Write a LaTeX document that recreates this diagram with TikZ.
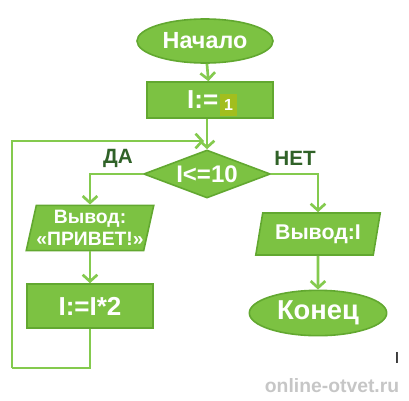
\documentclass[tikz,border=0pt]{standalone}
\usepackage{fontspec}
\setmainfont{Liberation Sans}
\definecolor{BlockColor}{RGB}{124,194,66}
\definecolor{BorderColor}{RGB}{98,168,48}
\definecolor{LineColor}{RGB}{132,202,78}
\definecolor{LabelColor}{RGB}{48,98,40}
\definecolor{ValueColor}{RGB}{162,190,30}
\usetikzlibrary{positioning, arrows.meta, shapes.geometric}
\tikzstyle{flow} = [line width=2pt, LineColor, -{Straight Barb[length=5pt,width=11pt,line width=2pt]}]
\tikzstyle{link} = [line width=2pt, LineColor]
\tikzset{
  terminal/.style={ellipse, fill=BlockColor, draw=BorderColor, line width=1.2pt, text=white, font=\bfseries\fontsize{17.5}{19}\selectfont, inner sep=0pt},
  process/.style={rectangle, fill=BlockColor, draw=BorderColor, line width=1.2pt, text=white, font=\bfseries\fontsize{19.5}{21}\selectfont, inner sep=0pt},
  decision/.style={diamond, fill=BlockColor, draw=BorderColor, line width=1.2pt, text=white, font=\bfseries\fontsize{18}{20}\selectfont, inner sep=0pt, shape aspect=2.6},
  io/.style={trapezium, trapezium left angle=74, trapezium right angle=106, trapezium stretches=true, fill=BlockColor, draw=BorderColor, line width=1.2pt, text=white, font=\bfseries\fontsize{16}{16.5}\selectfont, inner sep=0pt, align=center},
  value/.style={rectangle, fill=ValueColor, text=white, font=\bfseries\fontsize{12}{13}\selectfont, minimum width=12.75pt, minimum height=16.5pt, inner sep=0pt},
  answer/.style={text=LabelColor, font=\bfseries\fontsize{15.5}{17}\selectfont}
}

\begin{document}
\begin{tikzpicture}[x=0.75pt, y=-0.75pt]
            \useasboundingbox (0,0) rectangle (409,400);

            % Blocks of the algorithm
            \node[terminal, minimum width=102pt, minimum height=33pt] (start) at (205,41) {Начало};
            \node[process, minimum width=94.5pt, minimum height=27pt] (init) at (210,100) {\kern6pt I:=\kern17pt};
            \node[value] (initval) at (228.5,105) {1};
            \node[decision, minimum width=95pt, minimum height=36pt] (cond) at (207,174) {I<=10};
            \node[io, minimum width=94.5pt, minimum height=34pt, font=\bfseries\fontsize{14.5}{16.5}\selectfont] (hello) at (90,228) {Вывод:\\«ПРИВЕТ!»};
            \node[process, minimum width=94.5pt, minimum height=33pt] (double) at (90,306) {I:=I*2};
            \node[io, minimum width=94pt, minimum height=31.5pt] (result) at (318,234) {Вывод:I};
            \node[terminal, minimum width=103pt, minimum height=34pt, font=\bfseries\fontsize{20.5}{22}\selectfont] (stop) at (318,313) {Конец};

            % Branch labels
            \node[answer] (yes) at (118,158) {ДА};
            \node[answer] (no) at (295,158) {НЕТ};

            % Connectors
            \draw[flow] (start) -- (init);
            \draw[flow] (init.south -| cond.north) -- (cond.north);
            \draw[flow] (cond.west) -| (hello.north -| double.north);
            \draw[flow] (hello.south -| double.north) -- (double.north);
            \draw[flow] (cond.east) -| (result.north);
            \draw[flow] (result) -- (stop);

            % Loop back to the condition
            \coordinate (merge) at (204,141);
            \coordinate (back) at (12,368);
            \draw[link] (double.south) -- (double.south |- back) -- (back);
            \draw[flow] (back) -- (back |- merge) -- (merge);

            \node[font=\fontsize{12}{13}\selectfont] (cursor) at (397,358) {I};
            \node[text=gray!45, font=\bfseries\fontsize{14.5}{16}\selectfont] (site) at (332,386) {online-otvet.ru};
        \end{tikzpicture}
\end{document}
